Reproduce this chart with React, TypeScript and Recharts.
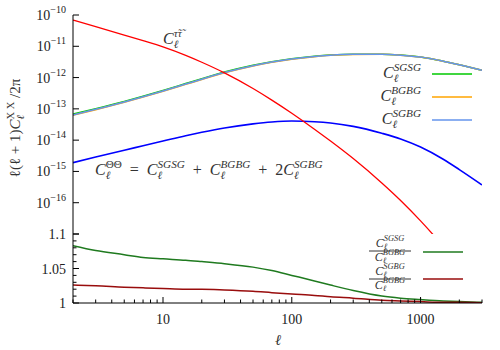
import { LineChart, Line, XAxis, YAxis } from "recharts"

// multipoles
const ell = [2, 3, 5, 7, 10, 15, 20, 30, 50, 70, 100, 150, 200, 300, 500, 700, 1000, 1500, 2000, 3000]

// log10 of l(l+1)C_l/2pi
const logTauTau = [-10.16, -10.37, -10.64, -10.82, -11.02, -11.29, -11.51, -11.85, -12.35, -12.72, -13.14, -13.65, -14.03, -14.59, -15.37, -15.93, -16.58, -17.39, -18.0, null]
const logSGSG = [-13.17, -12.994, -12.761, -12.597, -12.411, -12.191, -12.035, -11.824, -11.606, -11.492, -11.396, -11.317, -11.279, -11.253, -11.253, -11.282, -11.344, -11.476, -11.589, -11.765]
const logBGBG = [-13.205, -13.026, -12.79, -12.625, -12.438, -12.217, -12.06, -11.848, -11.628, -11.512, -11.413, -11.331, -11.29, -11.261, -11.257, -11.285, -11.346, -11.477, -11.59, -11.765]
const logSGBG = [-13.194, -13.015, -12.78, -12.615, -12.429, -12.208, -12.051, -11.84, -11.621, -11.505, -11.407, -11.326, -11.286, -11.258, -11.255, -11.284, -11.345, -11.477, -11.59, -11.765]
const logTheta = [-14.72, -14.54, -14.32, -14.18, -14.03, -13.86, -13.75, -13.61, -13.48, -13.42, -13.39, -13.41, -13.45, -13.56, -13.78, -13.96, -14.22, -14.61, -14.94, -15.43]

// bottom panel ratios
const ratioSGSG = [1.083, 1.076, 1.07, 1.066, 1.064, 1.062, 1.06, 1.057, 1.052, 1.047, 1.04, 1.032, 1.026, 1.018, 1.01, 1.007, 1.005, 1.003, 1.002, 1.001]
const ratioSGBG = [1.026, 1.025, 1.023, 1.022, 1.021, 1.02, 1.02, 1.019, 1.017, 1.015, 1.013, 1.011, 1.009, 1.007, 1.004, 1.003, 1.002, 1.001, 1.001, 1.0005]

// ticks
const xMajor = [10, 100, 1000]
const xTicks = [2, 3, 4, 5, 6, 7, 8, 9, 10, 20, 30, 40, 50, 60, 70, 80, 90, 100, 200, 300, 400, 500, 600, 700, 800, 900, 1000, 2000, 3000]
const topYTicks = [-17, -16, -15, -14, -13, -12, -11, -10]
const bottomYTicks = [1, 1.01, 1.02, 1.03, 1.04, 1.05, 1.06, 1.07, 1.08, 1.09, 1.1]
const bottomYLabels = ["1", "1.05", "1.1"]

const topData = ell.map((l, i) => ({
  ell: l,
  tt: logTauTau[i],
  sgsg: logSGSG[i],
  bgbg: logBGBG[i],
  sgbg: logSGBG[i],
  theta: logTheta[i],
}))
const bottomData = ell.map((l, i) => ({ ell: l, r1: ratioSGSG[i], r2: ratioSGBG[i] }))

const FONT = "'Liberation Serif', 'DejaVu Serif', serif"
const W = 500

function XTick(props: any) {
  const { x, y, payload, dir, label } = props
  const major = xMajor.includes(payload.value)
  const len = major ? 6 : 3.5
  return (
    <g>
      <line x1={x} x2={x} y1={y} y2={y + dir * len} stroke="#000" strokeWidth={1} />
      {label && major && (
        <text x={x} y={y + 21} textAnchor="middle" fontSize={14} fontFamily={FONT} fill="#222">
          {payload.value}
        </text>
      )}
    </g>
  )
}

function TopYTick(props: any) {
  const { x, y, payload, dir, label } = props
  return (
    <g>
      <line x1={x} x2={x + dir * 6} y1={y} y2={y} stroke="#000" strokeWidth={1} />
      {label && payload.value > -17 && (
        <text x={x - 7} y={y + 5} textAnchor="end" fontSize={14} fontFamily={FONT} fill="#222">
          10
          <tspan dy={-7} fontSize={10}>{`\u2212${-payload.value}`}</tspan>
        </text>
      )}
    </g>
  )
}

function BottomYTick(props: any) {
  const { x, y, payload, dir, label } = props
  const v = payload.value
  const lab = bottomYLabels.find((s) => Math.abs(parseFloat(s) - v) < 1e-9)
  const len = lab ? 6 : 3.5
  return (
    <g>
      <line x1={x} x2={x + dir * len} y1={y} y2={y} stroke="#000" strokeWidth={1} />
      {label && lab && (
        <text x={x - 7} y={y + 5} textAnchor="end" fontSize={14} fontFamily={FONT} fill="#222">
          {lab}
        </text>
      )}
    </g>
  )
}

// C_l^{sup} terms written as tspans so they flow in one text element
function terms(parts: [string, string, boolean?][], fs: number, suffix?: string, sub = 0.28) {
  const out: any[] = []
  parts.forEach(([op, sup, upright], i) => {
    const back = i === 0 ? 0 : fs * (0.7 - sub)
    if (op) {
      out.push(<tspan key={"o" + i} fontStyle="normal" dy={back}>{op}</tspan>)
    }
    out.push(<tspan key={"c" + i} fontStyle="italic" dy={op ? 0 : back}>C</tspan>)
    out.push(<tspan key={"l" + i} fontStyle="italic" fontSize={fs * 0.7} dy={fs * sub}>{"\u2113"}</tspan>)
    out.push(
      <tspan key={"s" + i} fontStyle={upright ? "normal" : "italic"} fontSize={fs * 0.7} dx={-fs * 0.7 * 0.42} dy={-fs * 0.7}>
        {sup}
      </tspan>
    )
  })
  if (suffix) out.push(<tspan key="suf" fontStyle="normal" dy={fs * (0.7 - sub)}>{suffix}</tspan>)
  return out
}

function Fraction({ cx, y, num, den }: { cx: number; y: number; num: string; den: string }) {
  const fs = 12
  return (
    <g fontFamily={FONT} fill="#333" fontSize={fs}>
      <text x={cx} y={y - 4} textAnchor="middle">{terms([["", num]], fs, undefined, 0.18)}</text>
      <line x1={cx - 21} x2={cx + 21} y1={y} y2={y} stroke="#333" strokeWidth={1} />
      <text x={cx} y={y + 10} textAnchor="middle">{terms([["", den]], fs, undefined, 0.18)}</text>
    </g>
  )
}

const topLegend = [
  { sup: "SGSG", color: "#00c800", y: 74 },
  { sup: "BGBG", color: "#ffa500", y: 97 },
  { sup: "SGBG", color: "#6495ed", y: 120 },
]

export default function App() {
  return (
    <div style={{ position: "absolute", left: 0, top: 0, width: W, height: 350, background: "#fff" }}>
      <div style={{ position: "absolute", left: 0, top: 0 }}>
        <LineChart width={W} height={240} data={topData} margin={{ top: 15, right: 18, bottom: 6, left: 0 }}>
          <XAxis xAxisId="b" dataKey="ell" type="number" scale="log" domain={[2, 3000]} allowDataOverflow
            orientation="bottom" height={0} ticks={xTicks} interval={0} tickSize={0} tickMargin={0}
            tickLine={false} axisLine={{ stroke: "#000" }} tick={(p: any) => <XTick {...p} dir={-1} />} />
          <XAxis xAxisId="t" dataKey="ell" type="number" scale="log" domain={[2, 3000]} allowDataOverflow
            orientation="top" height={0} ticks={xTicks} interval={0} tickSize={0} tickMargin={0}
            tickLine={false} axisLine={{ stroke: "#000" }} tick={(p: any) => <XTick {...p} dir={1} />} />
          <YAxis yAxisId="l" type="number" domain={[-17, -10]} allowDataOverflow width={73}
            ticks={topYTicks} interval={0} tickSize={0} tickMargin={0} tickLine={false}
            axisLine={{ stroke: "#000" }} tick={(p: any) => <TopYTick {...p} dir={1} label />} />
          <YAxis yAxisId="r" orientation="right" type="number" domain={[-17, -10]} allowDataOverflow width={0}
            ticks={topYTicks} interval={0} tickSize={0} tickMargin={0} tickLine={false}
            axisLine={{ stroke: "#000" }} tick={(p: any) => <TopYTick {...p} dir={-1} />} />
          <Line type="monotone" xAxisId="b" yAxisId="l" dataKey="sgsg" stroke="#00c800" strokeWidth={1.5} dot={false} isAnimationActive={false} />
          <Line type="monotone" xAxisId="b" yAxisId="l" dataKey="bgbg" stroke="#ffa500" strokeWidth={1.5} dot={false} isAnimationActive={false} />
          <Line type="monotone" xAxisId="b" yAxisId="l" dataKey="sgbg" stroke="#6495ed" strokeWidth={1.5} dot={false} isAnimationActive={false} />
          <Line type="monotone" xAxisId="b" yAxisId="l" dataKey="theta" stroke="#0000ff" strokeWidth={1.6} dot={false} isAnimationActive={false} />
          <Line type="monotone" xAxisId="b" yAxisId="l" dataKey="tt" stroke="#ff0000" strokeWidth={1.3} dot={false} isAnimationActive={false} />
        </LineChart>
      </div>
      <div style={{ position: "absolute", left: 0, top: 228 }}>
        <LineChart width={W} height={122} data={bottomData} margin={{ top: 6, right: 18, bottom: 0, left: 0 }}>
          <XAxis xAxisId="b" dataKey="ell" type="number" scale="log" domain={[2, 3000]} allowDataOverflow
            orientation="bottom" height={47} ticks={xTicks} interval={0} tickSize={0} tickMargin={0}
            tickLine={false} axisLine={{ stroke: "#000" }} tick={(p: any) => <XTick {...p} dir={-1} label />} />
          <XAxis xAxisId="t" dataKey="ell" type="number" scale="log" domain={[2, 3000]} allowDataOverflow
            orientation="top" height={0} ticks={xTicks} interval={0} tickSize={0} tickMargin={0}
            tickLine={false} axisLine={{ stroke: "#000" }} tick={(p: any) => <XTick {...p} dir={1} />} />
          <YAxis yAxisId="l" type="number" domain={[1, 1.1]} allowDataOverflow width={73}
            ticks={bottomYTicks} interval={0} tickSize={0} tickMargin={0} tickLine={false}
            axisLine={{ stroke: "#000" }} tick={(p: any) => <BottomYTick {...p} dir={1} label />} />
          <YAxis yAxisId="r" orientation="right" type="number" domain={[1, 1.1]} allowDataOverflow width={0}
            ticks={bottomYTicks} interval={0} tickSize={0} tickMargin={0} tickLine={false}
            axisLine={{ stroke: "#000" }} tick={(p: any) => <BottomYTick {...p} dir={-1} />} />
          <Line type="monotone" xAxisId="b" yAxisId="l" dataKey="r1" stroke="#1f7a1f" strokeWidth={1.5} dot={false} isAnimationActive={false} />
          <Line type="monotone" xAxisId="b" yAxisId="l" dataKey="r2" stroke="#990d0d" strokeWidth={1.5} dot={false} isAnimationActive={false} />
        </LineChart>
      </div>
      <svg width={W} height={350} style={{ position: "absolute", left: 0, top: 0, pointerEvents: "none" }}>
        <g fontFamily={FONT} fill="#333">
          <text transform="rotate(-90)" x={-128} y={20} textAnchor="middle" fontSize={15}>
            {terms([["\u2113(\u2113 + 1)", "X X", true]], 15, " /2\u03C0")}
          </text>
          <text x={278} y={345} textAnchor="middle" fontSize={15} fontStyle="italic">{"\u2113"}</text>
          <text x={163} y={44} fontSize={16}>{terms([["", "\u03C4\u0303\u03C4\u0303"]], 16)}</text>
          <text x={95} y={175} fontSize={16}>
            {terms([["", "\u0398\u0398", true], ["\u2002=\u2002", "SGSG"], ["\u2002+\u2002", "BGBG"], ["\u2002+\u20022", "SGBG"]], 16)}
          </text>
          {topLegend.map((e) => (
            <g key={e.sup}>
              <text x={421} y={e.y + 4} textAnchor="end" fontSize={16}>{terms([["", e.sup]], 16)}</text>
              <line x1={432} x2={472} y1={e.y} y2={e.y} stroke={e.color} strokeWidth={1.5} />
            </g>
          ))}
        </g>
        <Fraction cx={390} y={251} num="SGSG" den="BGBG" />
        <Fraction cx={390} y={279} num="SGBG" den="BGBG" />
        <line x1={423} x2={463} y1={252} y2={252} stroke="#1f7a1f" strokeWidth={1.5} />
        <line x1={423} x2={463} y1={279} y2={279} stroke="#990d0d" strokeWidth={1.5} />
      </svg>
    </div>
  )
}
